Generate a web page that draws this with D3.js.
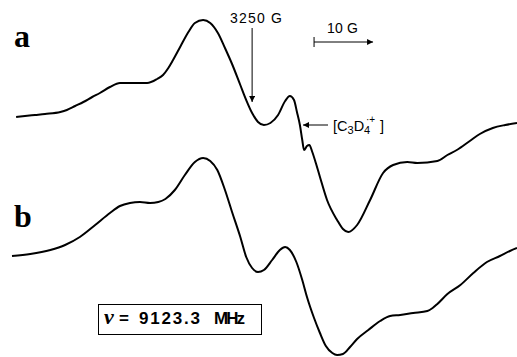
<!DOCTYPE html>
<html>
<head>
<meta charset="utf-8">
<script src="https://cdn.jsdelivr.net/npm/d3@7"></script>
<style>
  body { margin: 0; background: #fff; }
  svg { display: block; }
</style>
</head>
<body>
<script>
// field (G) and signal (arb. units)
const fieldA = [3210.0, 3211.5, 3213.2, 3214.9, 3217.5, 3218.6, 3220.0, 3221.4, 3222.9, 3224.2,
  3225.9, 3227.6, 3229.3, 3231.0, 3232.2, 3233.9, 3234.9, 3235.8, 3236.6, 3237.8,
  3239.2, 3240.3, 3241.7, 3242.9, 3244.2, 3245.4, 3246.6, 3248.0, 3249.0, 3250.0,
  3251.0, 3252.0, 3253.1, 3254.4, 3255.6, 3256.4, 3257.1, 3257.6, 3258.1, 3258.5,
  3258.8, 3259.3, 3259.7, 3260.2, 3260.8, 3261.5, 3262.7, 3264.4, 3265.4, 3266.3,
  3267.8, 3270.0, 3272.2, 3273.9, 3276.3, 3278.0, 3281.4, 3283.1, 3284.7, 3286.9,
  3288.6, 3290.8, 3292.9, 3294.9];
const signalA = [3, 4, 5, 6, 8, 10, 14, 18, 23, 27,
  33, 37, 37, 37, 37, 41, 45, 52, 60, 73,
  88, 97, 100, 97, 87, 72, 56, 35, 20, 7,
  -2, -5, -3, 5, 19, 24, 20, 8, -5, -20,
  -30, -26, -25, -32, -43, -57, -80, -100, -109, -112,
  -105, -80, -53, -45, -42, -43, -41, -35, -30, -21,
  -14, -8, -5, -3];

const fieldB = [3209.3, 3212.4, 3215.8, 3218.3, 3220.8, 3223.4, 3225.9, 3227.6, 3229.3, 3231.0,
  3232.7, 3234.1, 3235.3, 3236.9, 3238.6, 3240.3, 3241.7, 3242.9, 3244.1, 3245.4,
  3246.6, 3248.0, 3249.0, 3250.0, 3251.0, 3252.0, 3253.4, 3254.7, 3255.6, 3256.4,
  3257.5, 3258.5, 3259.3, 3260.5, 3261.5, 3262.5, 3263.6, 3264.4, 3265.4, 3266.6,
  3267.8, 3269.7, 3271.7, 3273.4, 3275.1, 3277.3, 3279.7, 3280.6, 3281.4, 3283.1,
  3285.3, 3287.5, 3289.8, 3292.0, 3293.7, 3294.9];
const signalB = [-1, 1, 5, 10, 18, 30, 42, 49, 52, 53,
  52, 53, 56, 65, 80, 93, 97, 94, 85, 65,
  43, 18, -2, -13, -17, -15, -5, 5, 8, 5,
  -7, -25, -42, -63, -78, -91, -98, -100, -99, -92,
  -84, -75, -66, -61, -60, -58, -56, -53, -49, -39,
  -30, -18, -7, -1, 4, 7];

const traceLabels = ["a", "b"];
const markField = 3250;
const scaleBarField = [3260.5, 3270.5];
const freqNumber = "9123.3";
const freqUnit = "MHz";

const width = 517, height = 357;

const svg = d3.select("body").append("svg")
  .attr("width", width)
  .attr("height", height);

const x = d3.scaleLinear().domain([3209.3, 3294.9]).range([12, 517]);
const y = d3.scaleLinear().domain([-150, 150]).range([150, -150]);

const line = d3.line()
  .x(d => x(d[0]))
  .y(d => y(d[1]))
  .curve(d3.curveMonotoneX);

const defs = svg.append("defs");
defs.append("marker")
  .attr("id", "head")
  .attr("viewBox", "0 0 10 10")
  .attr("refX", 10).attr("refY", 5)
  .attr("markerWidth", 8).attr("markerHeight", 6)
  .attr("markerUnits", "userSpaceOnUse")
  .attr("orient", "auto")
  .append("path").attr("d", "M0,0L10,5L0,10z").attr("fill", "#000");

const traces = [
  { f: fieldA, s: signalA, off: 120 },
  { f: fieldB, s: signalB, off: 255 }
];

traces.forEach(t => {
  svg.append("g")
    .attr("transform", "translate(0," + t.off + ")")
    .append("path")
    .datum(d3.zip(t.f, t.s))
    .attr("d", line)
    .attr("fill", "none")
    .attr("stroke", "#000")
    .attr("stroke-width", 2)
    .attr("stroke-linejoin", "round");
});

// trace letters
svg.selectAll("text.lab")
  .data(traceLabels)
  .enter().append("text")
  .attr("class", "lab")
  .attr("x", 14)
  .attr("y", (d, i) => i === 0 ? 47 : 227)
  .attr("font-family", "Liberation Serif, serif")
  .attr("font-weight", "bold")
  .attr("font-size", 32)
  .text(d => d);

const sans = "Liberation Sans, Arial, sans-serif";

// 3250 G marker
svg.append("text")
  .attr("x", 230).attr("y", 23)
  .attr("font-family", sans)
  .attr("font-size", 14)
  .attr("textLength", 52).attr("lengthAdjust", "spacing")
  .text(markField + " G");
svg.append("line")
  .attr("x1", x(markField)).attr("x2", x(markField))
  .attr("y1", 28).attr("y2", 102)
  .attr("stroke", "#000").attr("stroke-width", 1)
  .attr("marker-end", "url(#head)");

// 10 G scale bar
svg.append("line")
  .attr("x1", x(scaleBarField[0])).attr("x2", x(scaleBarField[1]))
  .attr("y1", 42).attr("y2", 42)
  .attr("stroke", "#000").attr("stroke-width", 1)
  .attr("marker-end", "url(#head)");
svg.append("line")
  .attr("x1", x(scaleBarField[0])).attr("x2", x(scaleBarField[0]))
  .attr("y1", 37).attr("y2", 47)
  .attr("stroke", "#000").attr("stroke-width", 1);
svg.append("text")
  .attr("x", 327).attr("y", 33)
  .attr("font-family", sans)
  .attr("font-size", 14)
  .attr("textLength", 31).attr("lengthAdjust", "spacing")
  .text("10 G");

// radical cation label
svg.append("line")
  .attr("x1", 328).attr("x2", 303)
  .attr("y1", 125).attr("y2", 125)
  .attr("stroke", "#000").attr("stroke-width", 1)
  .attr("marker-end", "url(#head)");
const rc = svg.append("text")
  .attr("y", 131)
  .attr("font-family", sans)
  .attr("font-size", 14.5);
rc.append("tspan").attr("x", 333).text("[C");
rc.append("tspan").attr("font-size", 11).attr("dy", 3).text("3");
rc.append("tspan").attr("dy", -3).text("D");
rc.append("tspan").attr("font-size", 11).attr("dy", 3).text("4");
rc.append("tspan").attr("font-size", 10).attr("x", 366).attr("dy", -11).text("\u00b7+");
rc.append("tspan").attr("x", 380).attr("dy", 8).text("]");

// frequency box
svg.append("rect")
  .attr("x", 98.5).attr("y", 304.5)
  .attr("width", 163).attr("height", 30)
  .attr("fill", "none").attr("stroke", "#000").attr("stroke-width", 1);
const ft = svg.append("text")
  .attr("y", 324)
  .attr("font-family", sans)
  .attr("font-weight", "bold")
  .attr("font-size", 17);
ft.append("tspan")
  .attr("x", 104)
  .attr("font-family", "Liberation Serif, serif")
  .attr("font-style", "italic")
  .attr("font-size", 22)
  .text("\u03bd");
ft.append("tspan").attr("x", 119).text("=");
svg.append("text")
  .attr("x", 139).attr("y", 324)
  .attr("font-family", sans).attr("font-weight", "bold").attr("font-size", 17)
  .attr("textLength", 61).attr("lengthAdjust", "spacing")
  .text(freqNumber);
svg.append("text")
  .attr("x", 214).attr("y", 324)
  .attr("font-family", sans).attr("font-weight", "bold").attr("font-size", 17)
  .attr("textLength", 31).attr("lengthAdjust", "spacing")
  .text(freqUnit);
</script>
</body>
</html>
